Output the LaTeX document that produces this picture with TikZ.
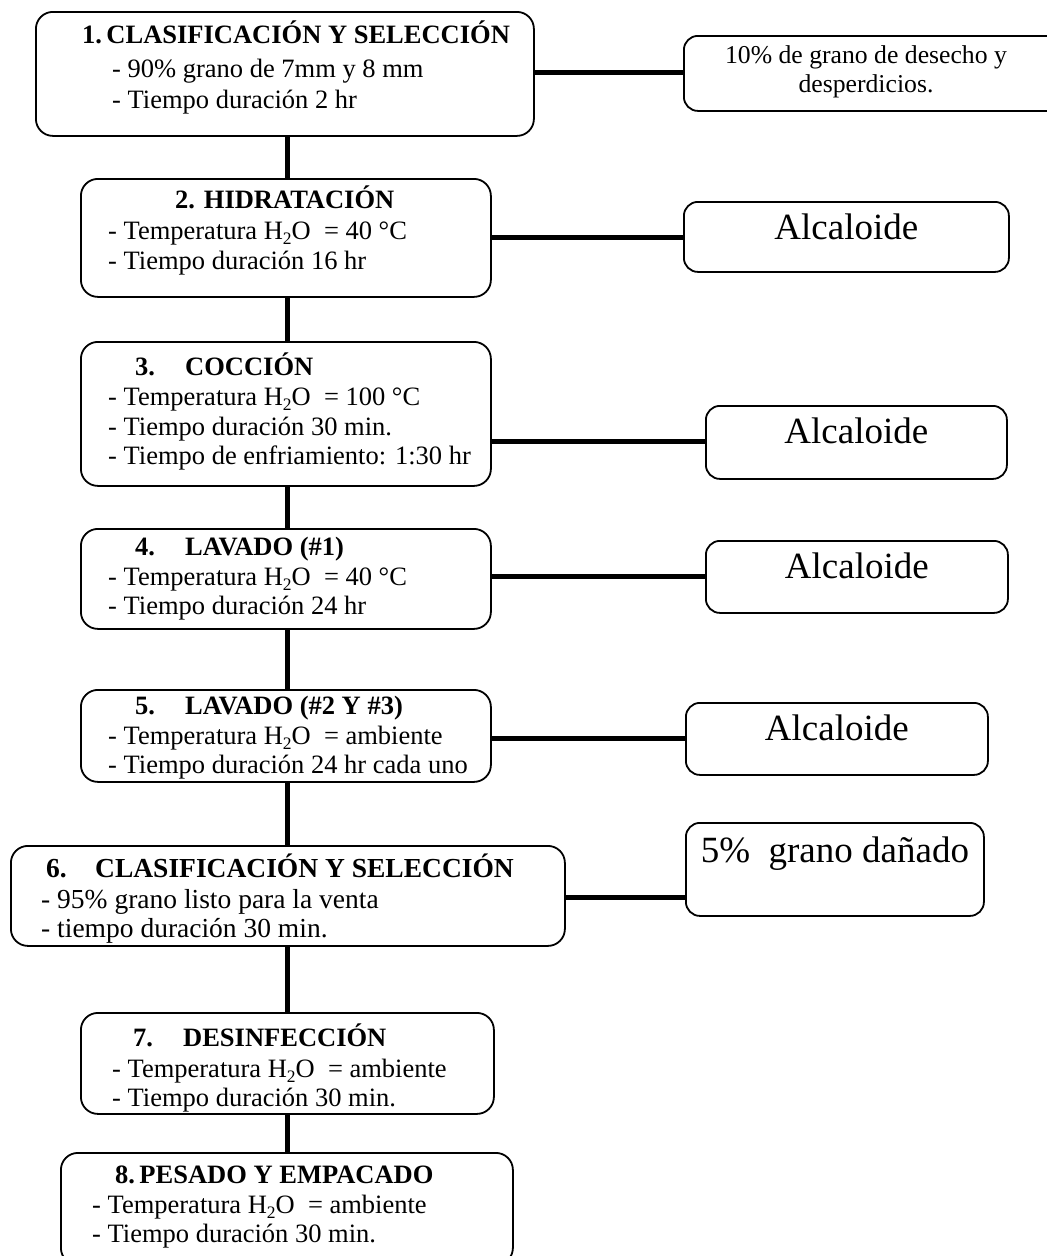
\documentclass[tikz,border=0pt]{standalone}
\usepackage{fontspec}
\setmainfont{Liberation Serif}
\newcommand\bodyfnt{\fontsize{26.5}{30}\selectfont}
\newcommand\ttlfnt{\fontsize{26.5}{30}\selectfont\bfseries}
\newcommand\bodyfntb{\fontsize{27.5}{31}\selectfont}
\newcommand\ttlfntb{\fontsize{27.5}{31}\selectfont\bfseries}
\newcommand\bigfnt{\fontsize{37}{40}\selectfont}
\newcommand\outfnt{\fontsize{25.7}{29}\selectfont}
\newcommand\hsub[1]{\raisebox{-5pt}{\fontsize{17.5}{18}\selectfont #1}}
\newcommand\numtab[1]{\hbox to 50pt{#1\hfil}}
\tikzset{
  stepbox/.style={draw, line width=1.8pt, rounded corners=17pt, anchor=north west, inner sep=0pt},
  outbox/.style={draw, line width=1.8pt, rounded corners=14pt, anchor=north west, inner sep=0pt},
  conn/.style={line width=5pt},
  txt/.style={anchor=base west, inner sep=0pt, font=\bodyfnt},
  ttl/.style={anchor=base west, inner sep=0pt, font=\ttlfnt},
  txtb/.style={anchor=base west, inner sep=0pt, font=\bodyfntb},
  ttlb/.style={anchor=base west, inner sep=0pt, font=\ttlfntb},
  bigtxt/.style={anchor=base, inner sep=0pt, font=\bigfnt},
  outtxt/.style={anchor=base, inner sep=0pt, font=\outfnt},
}
\begin{document}
\begin{tikzpicture}[x=1pt,y=-1pt]
\useasboundingbox (0,0) rectangle (1047,1256);
\clip (0,0) rectangle (1047,1256);
\fill[white] (0,0) rectangle (1047,1256);

% main step boxes
\node[stepbox, minimum width=498pt, minimum height=124pt] (b1) at (35,11) {};
\node[stepbox, minimum width=410pt, minimum height=118pt] (b2) at (80,178) {};
\node[stepbox, minimum width=410pt, minimum height=144pt] (b3) at (80,341) {};
\node[stepbox, minimum width=410pt, minimum height=100pt] (b4) at (80,528) {};
\node[stepbox, minimum width=410pt, minimum height=92pt] (b5) at (80,689) {};
\node[stepbox, minimum width=554pt, minimum height=100pt] (b6) at (10,845) {};
\node[stepbox, minimum width=413pt, minimum height=101pt] (b7) at (80,1012) {};
\node[stepbox, minimum width=452pt, minimum height=112pt] (b8) at (60,1152) {};

% output boxes
\node[outbox, minimum width=395pt, minimum height=75pt] (r1) at (683,35) {};
\node[outbox, minimum width=325pt, minimum height=70pt] (r2) at (683,201) {};
\node[outbox, minimum width=301pt, minimum height=73pt] (r3) at (705,405) {};
\node[outbox, minimum width=302pt, minimum height=72pt] (r4) at (705,540) {};
\node[outbox, minimum width=302pt, minimum height=72pt] (r5) at (685,702) {};
\node[outbox, minimum width=298pt, minimum height=93pt] (r6) at (685,822) {};

% texts box 1
\node[ttl] (t1a) at (82,43) {1.\,CLASIFICACIÓN Y SELECCIÓN};
\node[txt] (t1b) at (112,77) {- 90\%\ grano de 7mm y 8 mm};
\node[txt] (t1c) at (112,108) {- Tiempo duración 2 hr};
% box 2
\node[ttl] (t2a) at (175,208) {2. HIDRATACIÓN};
\node[txt] (t2b) at (108,239) {- Temperatura H\hsub{2}O\ \ = 40 °C};
\node[txt] (t2c) at (108,269) {- Tiempo duración 16 hr};
% box 3
\node[ttl] (t3a) at (135,375) {\numtab{3.}COCCIÓN};
\node[txt] (t3b) at (108,405) {- Temperatura H\hsub{2}O\ \ = 100 °C};
\node[txt] (t3c) at (108,435) {- Tiempo duración 30 min.};
\node[txt] (t3d) at (108,464) {- Tiempo de enfriamiento: 1:30 hr};
% box 4
\node[ttl] (t4a) at (135,555) {\numtab{4.}LAVADO (\#1)};
\node[txt] (t4b) at (108,585) {- Temperatura H\hsub{2}O\ \ = 40 °C};
\node[txt] (t4c) at (108,614) {- Tiempo duración 24 hr};
% box 5
\node[ttl] (t5a) at (135,714) {\numtab{5.}LAVADO (\#2 Y \#3)};
\node[txt] (t5b) at (108,744) {- Temperatura H\hsub{2}O\ \ = ambiente};
\node[txt] (t5c) at (108,773) {- Tiempo duración 24 hr cada uno};
% box 6
\node[ttlb] (t6a) at (46,877) {\hbox to 49pt{6.\hfil}CLASIFICACIÓN Y SELECCIÓN};
\node[txtb] (t6b) at (41,908) {- 95\%\ grano listo para la venta};
\node[txtb] (t6c) at (41,937) {- tiempo duración 30 min.};
% box 7
\node[ttl] (t7a) at (133,1046) {\numtab{7.}DESINFECCIÓN};
\node[txt] (t7b) at (112,1077) {- Temperatura H\hsub{2}O\ \ = ambiente};
\node[txt] (t7c) at (112,1106) {- Tiempo duración 30 min.};
% box 8
\node[ttl] (t8a) at (115,1183) {8.\,PESADO Y EMPACADO};
\node[txt] (t8b) at (92,1213) {- Temperatura H\hsub{2}O\ \ = ambiente};
\node[txt] (t8c) at (92,1242) {- Tiempo duración 30 min.};

% output texts
\node[outtxt] (o1a) at (866,63) {10\%\ de grano de desecho y};
\node[outtxt] (o1b) at (866,92) {desperdicios.};
\node[bigtxt] (o2) at (r2.north |- 0,239) {Alcaloide};
\node[bigtxt] (o3) at (r3.north |- 0,443) {Alcaloide};
\node[bigtxt] (o4) at (r4.north |- 0,578) {Alcaloide};
\node[bigtxt] (o5) at (r5.north |- 0,740) {Alcaloide};
\node[bigtxt] (o6) at (r6.north |- 0,862) {5\%\ \ grano dañado};

% vertical connectors
\coordinate (cx) at (287,0);
\draw[conn] (b1.south -| cx) -- (b2.north -| cx);
\draw[conn] (b2.south -| cx) -- (b3.north -| cx);
\draw[conn] (b3.south -| cx) -- (b4.north -| cx);
\draw[conn] (b4.south -| cx) -- (b5.north -| cx);
\draw[conn] (b5.south -| cx) -- (b6.north -| cx);
\draw[conn] (b6.south -| cx) -- (b7.north -| cx);
\draw[conn] (b7.south -| cx) -- (b8.north -| cx);

% horizontal connectors
\coordinate (h1) at (0,72);
\coordinate (h2) at (0,237);
\coordinate (h3) at (0,441);
\coordinate (h4) at (0,576);
\coordinate (h5) at (0,738);
\coordinate (h6) at (0,897);
\draw[conn] (b1.east |- h1) -- (r1.west |- h1);
\draw[conn] (b2.east |- h2) -- (r2.west |- h2);
\draw[conn] (b3.east |- h3) -- (r3.west |- h3);
\draw[conn] (b4.east |- h4) -- (r4.west |- h4);
\draw[conn] (b5.east |- h5) -- (r5.west |- h5);
\draw[conn] (b6.east |- h6) -- (r6.west |- h6);
\end{tikzpicture}
\end{document}
